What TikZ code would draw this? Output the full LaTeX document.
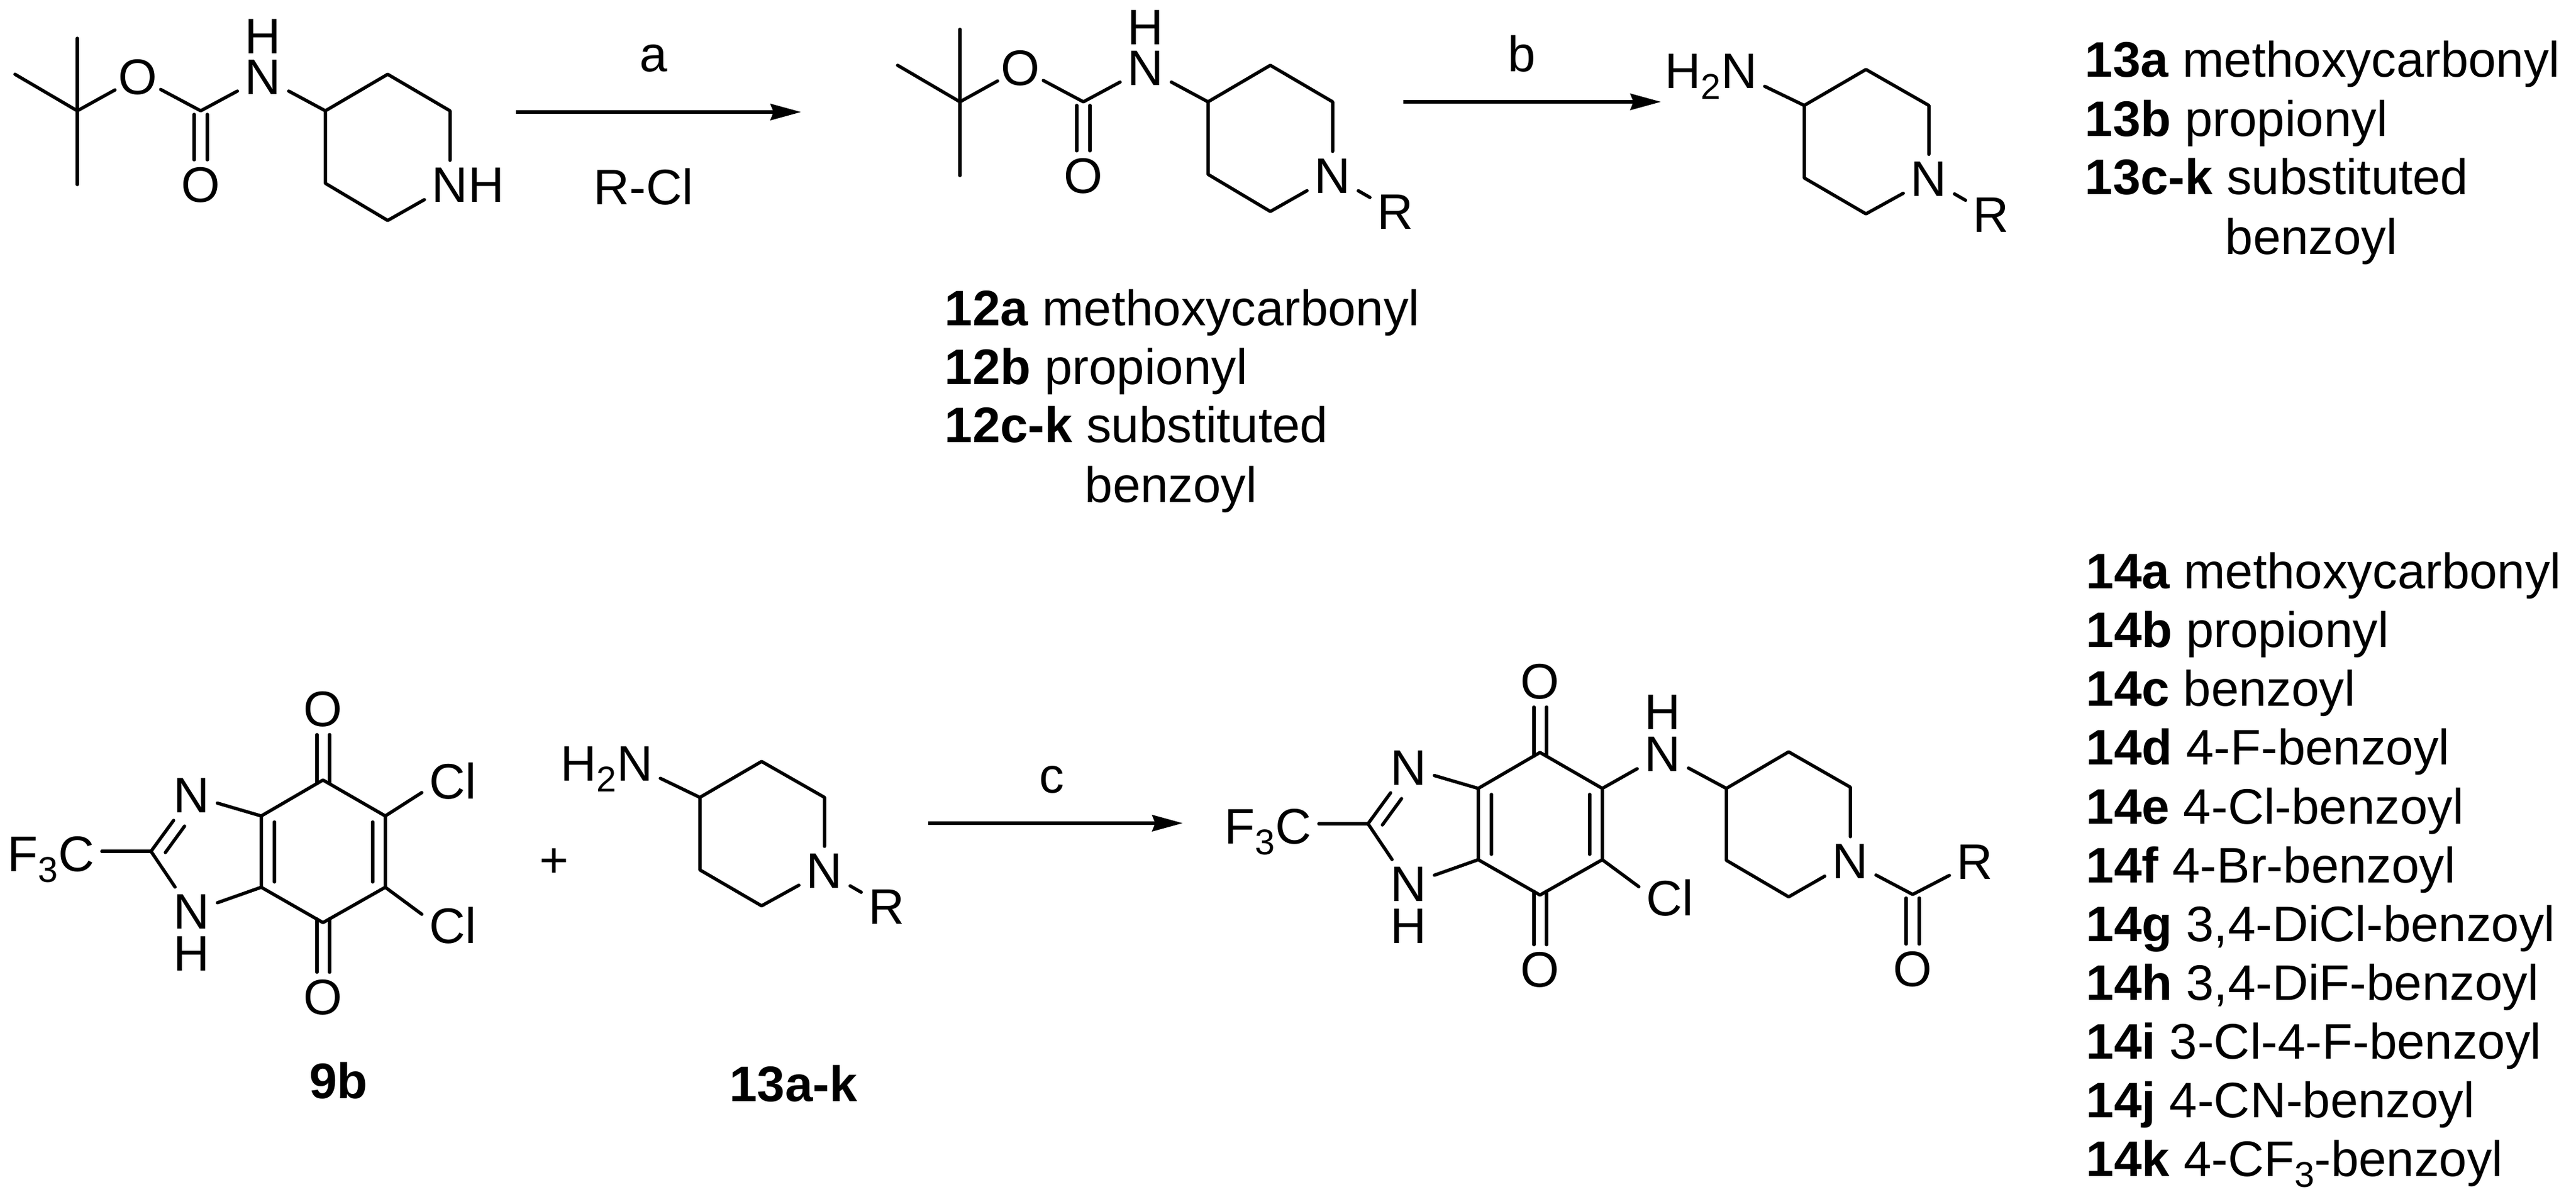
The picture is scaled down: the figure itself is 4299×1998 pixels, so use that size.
\documentclass[tikz,border=0pt]{standalone}
\usepackage{fontspec}
\setmainfont{Liberation Sans}
\usetikzlibrary{calc}
\usetikzlibrary{arrows.meta}
\newcommand{\chemfont}{\fontsize{23.7}{28}\selectfont}
\newcommand{\lowsub}[1]{\raisebox{-.18cm}{\fontsize{17}{20}\selectfont #1}}
\tikzset{
  atom/.style={font=\chemfont,inner sep=.12cm},
  oxy/.style={atom,inner xsep=.05cm},
  lbl/.style={font=\chemfont,inner sep=0pt,anchor=base},
  item/.style={font=\chemfont,inner sep=0pt,anchor=base west},
  bond/.style={line width=.055cm,line cap=round,line join=round},
  rxn/.style={line width=.06cm,-{Stealth[length=.51cm,width=.27cm,inset=.05cm]}}
}
\begin{document}
\begin{tikzpicture}[x=.01cm,y=-.01cm]
\useasboundingbox (0,0) rectangle (4299,1998);
% Boc-protected piperidines
\foreach \pre/\sx/\sy in {b1/0/0,b2/1473/-15}{
\begin{scope}[shift={(\sx,\sy)},name prefix=\pre-]
\coordinate (me1) at (129,64);
\coordinate (me2) at (25,124);
\coordinate (me3) at (129,308);
\coordinate (cq) at (129,185);
\coordinate (cc) at (335,185);
\coordinate (c4) at (543,185);
\coordinate (c3) at (647,124);
\coordinate (c2) at (751,185);
\coordinate (c5) at (543,306);
\coordinate (c6) at (647,368);
\node[oxy] (o1) at (230,129) {O};
\node[oxy] (o2) at (335,309) {O};
\node[atom] (nh) at (439,129) {N};
\node[atom] (h) at (439,61) {H};
\node[atom] (n1) at (751,309) {N};
\draw[bond] (me1)--(me3);
\draw[bond] (me2)--(cq)--(o1);
\draw[bond] (o1)--(cc)--(nh);
\draw[bond] ([shift={(-11,6)}]cc)--([shift={(-11,0)}]o2.north);
\draw[bond] ([shift={(11,6)}]cc)--([shift={(11,0)}]o2.north);
\draw[bond] (nh)--(c4)--(c3)--(c2)--(n1);
\draw[bond] (c4)--(c5)--(c6)--(n1);
\end{scope}
}
\node[atom] (b1-h2) at (812,309) {H};
\node[atom] (b2-r) at (2329,354) {R};
\draw[bond] (b2-n1)--(b2-r);
% free amines
\foreach \pre/\sx/\sy in {a1/0/0,a2/-1843/1155}{
\begin{scope}[shift={(\sx,\sy)},name prefix=\pre-]
\coordinate (c4) at (3011,176);
\coordinate (c3) at (3114,116);
\coordinate (c2) at (3219,176);
\coordinate (c5) at (3011,297);
\coordinate (c6) at (3114,357);
\node[atom,anchor=base east] (nh2) at (2945,148) {H\lowsub{2}N};
\node[atom] (n1) at (3219,299) {N};
\node[atom] (r) at (3323,359) {R};
\draw[bond] (nh2.-10)--(c4)--(c3)--(c2)--(n1);
\draw[bond] (c4)--(c5)--(c6)--(n1)--(r);
\end{scope}
}
% quinone core
\foreach \pre/\sx/\sy in {q1/0/0,q2/2031/-46}{
\begin{scope}[shift={(\sx,\sy)},name prefix=\pre-]
\coordinate (ct) at (539,1302);
\coordinate (cb) at (539,1540);
\coordinate (c3a) at (436,1362);
\coordinate (c7a) at (436,1481);
\coordinate (c5) at (643,1362);
\coordinate (c6) at (643,1481);
\coordinate (c2) at (252,1421);
\coordinate (d1) at (458,1372);
\coordinate (d2) at (458,1472);
\coordinate (d3) at (622,1372);
\coordinate (d4) at (622,1472);
\coordinate (d5) at (308,1379);
\coordinate (d6) at (276,1423);
\node[oxy] (ot) at (539,1184) {O};
\node[oxy] (ob) at (539,1665) {O};
\node[atom] (n3) at (320,1328) {N};
\node[atom] (n1) at (320,1522) {N};
\node[atom] (h) at (320,1592) {H};
\node[atom,anchor=base east] (cf3) at (170,1454) {F\lowsub{3}C};
\node[atom] (cl6) at (756,1545) {Cl};
\draw[bond] (ct)--(c5)--(c6)--(cb)--(c7a)--(c3a)--cycle;
\draw[bond] (d1)--(d2);
\draw[bond] (d3)--(d4);
\draw[bond] (d5)--(d6);
\draw[bond] (c3a)--(n3)--(c2)--(n1)--(c7a);
\draw[bond] (c2)--(cf3.east |- c2);
\draw[bond] ([shift={(-10,6)}]ct)--([shift={(-10,0)}]ot.south);
\draw[bond] ([shift={(11,6)}]ct)--([shift={(11,0)}]ot.south);
\draw[bond] ([shift={(-10,-6)}]cb)--([shift={(-10,0)}]ob.north);
\draw[bond] ([shift={(11,-6)}]cb)--([shift={(11,0)}]ob.north);
\draw[bond] (c6)--(cl6.160);
\end{scope}
}
\node[atom] (q1-cl5) at (756,1304) {Cl};
\draw[bond] (q1-c5)--(q1-cl5.200);
% product side chain
\coordinate (p4) at (2881,1316);
\coordinate (p3) at (2985,1255);
\coordinate (p2) at (3088,1314);
\coordinate (p5) at (2881,1436);
\coordinate (p6) at (2985,1497);
\coordinate (pc) at (3192,1493);
\node[atom] (pnh) at (2775,1259) {N};
\node[atom] (ph) at (2775,1189) {H};
\node[atom] (pn) at (3088,1438) {N};
\node[atom] (pr) at (3296,1439) {R};
\node[oxy] (po) at (3192,1618) {O};
\draw[bond] (q2-c5)--(pnh)--(p4)--(p3)--(p2)--(pn);
\draw[bond] (p4)--(p5)--(p6)--(pn)--(pc)--(pr);
\draw[bond] ([shift={(-11,6)}]pc)--([shift={(-11,0)}]po.north);
\draw[bond] ([shift={(11,6)}]pc)--([shift={(11,0)}]po.north);
% arrows
\coordinate (a1s) at (861,187);
\coordinate (a1e) at (1337,187);
\coordinate (a2s) at (2342,170);
\coordinate (a2e) at (2772,170);
\coordinate (a3s) at (1549,1374);
\coordinate (a3e) at (1974,1374);
\draw[rxn] (a1s)--(a1e);
\draw[rxn] (a2s)--(a2e);
\draw[rxn] (a3s)--(a3e);
\node[lbl] (ta) at (1091,120) {a};
\node[lbl] (trcl) at (1074,342) {R-Cl};
\node[lbl] (tb) at (2540,120) {b};
\node[lbl] (tc) at (1755,1323) {c};
\node[atom] (plus) at (925,1440) {+};
\node[lbl] (l9b) at (565,1833) {\textbf{9b}};
\node[lbl] (l13r) at (1324,1838) {\textbf{13a-k}};
% substituent lists
\node[item] (l12a) at (1576,544) {\textbf{12a} methoxycarbonyl};
\node[item] (l12b) at (1576,642) {\textbf{12b} propionyl};
\node[item] (l12c) at (1576,739) {\textbf{12c-k} substituted};
\node[item] (l12d) at (1810,839) {benzoyl};
\node[item] (l13a) at (3479,129) {\textbf{13a} methoxycarbonyl};
\node[item] (l13b) at (3479,228) {\textbf{13b} propionyl};
\node[item] (l13c) at (3479,325) {\textbf{13c-k} substituted};
\node[item] (l13d) at (3713,425) {benzoyl};
\foreach \lab/\txt [count=\i from 0] in {a/methoxycarbonyl,b/propionyl,c/benzoyl,d/4-F-benzoyl,e/4-Cl-benzoyl,f/4-Br-benzoyl,g/{3,4-DiCl-benzoyl},h/{3,4-DiF-benzoyl},i/3-Cl-4-F-benzoyl,j/4-CN-benzoyl,k/4-CF\lowsub{3}-benzoyl}{
\node[item] (l14\lab) at (3481,{983+98*\i}) {\textbf{14\lab} \txt};
}
\end{tikzpicture}
\end{document}
